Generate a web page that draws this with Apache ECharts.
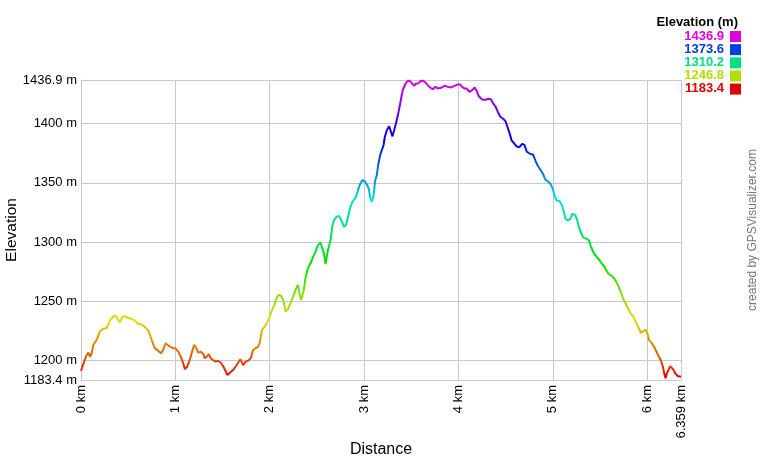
<!DOCTYPE html>
<html>
<head>
<meta charset="utf-8">
<script src="https://cdn.jsdelivr.net/npm/echarts@6/dist/echarts.min.js"></script>
<style>html,body{margin:0;padding:0;background:#fff;}#chart{width:760px;height:460px;}</style>
</head>
<body>
<div id="chart"></div>
<script>
// distance along track (km)
const distKm = [
0, 0.025, 0.060, 0.078, 0.095, 0.113, 0.131, 0.166, 0.201, 0.236, 0.272, 0.307, 0.342, 0.367, 0.388, 0.413, 0.437, 0.466, 0.483, 0.501, 0.536, 0.571, 0.600, 0.642, 0.677, 0.713, 0.730, 0.755, 0.783, 0.818, 0.847, 0.871, 0.896, 0.917, 0.942, 0.977, 1.002, 1.030, 1.058, 1.083, 1.101, 1.125, 1.153, 1.178, 1.199, 1.224, 1.242, 1.270, 1.295, 1.312, 1.340, 1.354, 1.376, 1.400, 1.425, 1.453, 1.481, 1.506, 1.531, 1.552, 1.577, 1.612, 1.637, 1.665, 1.690, 1.718, 1.743, 1.771, 1.799, 1.824, 1.848, 1.877, 1.894,
1.918, 1.954, 1.989, 2.025, 2.050, 2.071, 2.096, 2.121, 2.149, 2.167, 2.191, 2.220, 2.248, 2.273, 2.298, 2.319, 2.333, 2.362, 2.379, 2.404, 2.433, 2.461, 2.486, 2.511, 2.539, 2.557, 2.574, 2.592, 2.617, 2.645, 2.663, 2.681, 2.709, 2.734, 2.759, 2.787, 2.809, 2.830, 2.851, 2.876, 2.911, 2.936, 2.957, 2.982, 3.007, 3.028, 3.050, 3.064, 3.082, 3.099, 3.117, 3.135, 3.149, 3.170, 3.188, 3.206, 3.220, 3.241, 3.266, 3.284, 3.301, 3.319, 3.337,
3.357, 3.375, 3.392, 3.410, 3.435, 3.463, 3.488, 3.509, 3.534, 3.551, 3.576, 3.597, 3.622, 3.650, 3.675, 3.700, 3.728, 3.756, 3.781, 3.816, 3.852, 3.887, 3.922, 3.958, 3.993, 4.018, 4.039, 4.064, 4.088, 4.117, 4.145, 4.173, 4.194, 4.216, 4.251, 4.286, 4.322, 4.346, 4.371, 4.392, 4.417, 4.442, 4.470, 4.498, 4.523, 4.541, 4.565, 4.594, 4.618, 4.647, 4.675, 4.700, 4.724,
4.762, 4.791, 4.816, 4.840, 4.869, 4.897, 4.922, 4.947, 4.975, 5.000, 5.018, 5.039, 5.071, 5.099, 5.117, 5.135, 5.160, 5.188, 5.206, 5.223, 5.241, 5.259, 5.277, 5.301, 5.323, 5.358, 5.383, 5.401, 5.418, 5.443, 5.472, 5.500, 5.525, 5.550, 5.567, 5.592, 5.617, 5.645, 5.674, 5.699, 5.727, 5.748, 5.773, 5.798, 5.826, 5.855, 5.879, 5.904, 5.933, 5.961, 5.986, 6.004, 6.021, 6.046, 6.074, 6.099, 6.124, 6.145, 6.167, 6.181, 6.195, 6.209, 6.227, 6.245, 6.262, 6.280, 6.298, 6.323, 6.359
];
// elevation (m)
const elevM = [
1191.2, 1196.9, 1204.5, 1206.5, 1203.1, 1206.0, 1213.1, 1217.3, 1224.4, 1226.7, 1227.3, 1233.8, 1237.2, 1237.8, 1234.9, 1232.1, 1236.6, 1237.2, 1238.6, 1235.8, 1234.9, 1233.8, 1231.0, 1230.4, 1228.1, 1225.3, 1221.6, 1215.9, 1210.2, 1208.2, 1206.0, 1208.8, 1214.5, 1214.5, 1211.6, 1210.2, 1210.2, 1207.4, 1203.1, 1197.4, 1192.6, 1194.6, 1200.3, 1207.4, 1213.1, 1210.2, 1206.5, 1207.4, 1205.4, 1201.7, 1203.7, 1205.4, 1201.7, 1200.3, 1198.9, 1199.7, 1198.0, 1195.2, 1191.2, 1187.5, 1189.5, 1191.8, 1194.6, 1198.0, 1200.9, 1196.0, 1198.9, 1199.7, 1201.7, 1208.8, 1210.2, 1211.6, 1214.5,
1225.8, 1229.2, 1234.8, 1242.7, 1246.9, 1252.5, 1255.3, 1254.5, 1249.7, 1241.3, 1242.7, 1248.3, 1253.9, 1259.6, 1263.8, 1255.3, 1251.1, 1259.6, 1269.4, 1277.8, 1282.0, 1287.6, 1291.9, 1297.5, 1299.4, 1298.9, 1290.4, 1281.5, 1293.3, 1301.7, 1312.9, 1318.5, 1321.3, 1321.9, 1318.5, 1312.9, 1314.3, 1321.3, 1328.4, 1334.0, 1337.6, 1343.8, 1348.9, 1352.2, 1351.4, 1348.9, 1345.2, 1337.6, 1334.0, 1338.2, 1351.7, 1356.5, 1364.9, 1373.3, 1377.5, 1381.7, 1388.8, 1394.4, 1397.8, 1396.6, 1389.3, 1394.4, 1400.0,
1406.6, 1413.8, 1421.0, 1428.3, 1433.2, 1436.3, 1436.0, 1434.0, 1432.0, 1434.0, 1434.0, 1436.0, 1436.3, 1434.9, 1432.6, 1430.6, 1429.1, 1431.1, 1429.7, 1430.3, 1432.0, 1431.1, 1430.6, 1432.0, 1433.2, 1433.2, 1431.1, 1429.7, 1429.7, 1426.8, 1428.3, 1430.6, 1427.4, 1423.1, 1420.5, 1420.2, 1421.0, 1420.5, 1416.7, 1414.7, 1410.1, 1406.1, 1404.3, 1402.3, 1396.5, 1392.2, 1385.6, 1383.0, 1380.7, 1380.1, 1383.0, 1382.1, 1376.4,
1374.4, 1373.9, 1368.8, 1364.6, 1361.0, 1357.6, 1352.5, 1351.4, 1349.2, 1344.9, 1339.3, 1335.1, 1334.6, 1330.9, 1325.3, 1319.7, 1318.3, 1319.7, 1323.9, 1325.3, 1322.5, 1318.3, 1312.6, 1307.6, 1303.7, 1302.8, 1301.4, 1297.2, 1293.5, 1289.6, 1286.8, 1284.0, 1281.2, 1278.9, 1276.1, 1272.8, 1271.9, 1269.9, 1266.3, 1262.1, 1256.5, 1251.4, 1248.0, 1243.8, 1239.6, 1236.8, 1232.6, 1228.4, 1223.3, 1224.7, 1226.1, 1222.2, 1217.1, 1214.9, 1211.5, 1207.3, 1203.1, 1200.3, 1194.7, 1189.0, 1184.8, 1189.0, 1191.9, 1195.2, 1196.1, 1191.9, 1189.0, 1186.8, 1186.2
];
// axis ticks
const yMin = 1183.4, yMax = 1436.9;
const yTicks = [1183.4, 1200, 1250, 1300, 1350, 1400, 1436.9];
const xMax = 6.359;
const xTicks = [0, 1, 2, 3, 4, 5, 6, 6.359];
// legend
const legendValues = ['1436.9', '1373.6', '1310.2', '1246.8', '1183.4'];
const legendColors = ['#e000e0', '#0040e0', '#00e080', '#b0e000', '#e00000'];
// hue ramp low -> high
const rampColors = ['#e00000', '#e0e000', '#00e000', '#00e0e0', '#0000e0', '#e000e0'];

const FONT = 'Liberation Sans, Arial, sans-serif';
const seriesData = distKm.map((d, i) => [d, elevM[i]]);

const legendGraphics = [{
  type: 'text', x: 738, y: 22,
  style: { text: 'Elevation (m)', fill: '#000', font: 'bold 13px ' + FONT, textAlign: 'right', textVerticalAlign: 'middle' }
}];
legendValues.forEach((v, i) => {
  legendGraphics.push({
    type: 'text', x: 724, y: 36.3 + 13.15 * i,
    style: { text: v, fill: legendColors[i], font: 'bold 13px ' + FONT, textAlign: 'right', textVerticalAlign: 'middle' }
  });
  legendGraphics.push({
    type: 'rect', shape: { x: 730, y: 31 + 13.15 * i, width: 11, height: 11 },
    style: { fill: legendColors[i] }
  });
});
legendGraphics.push({
  type: 'text', x: 753, y: 230, rotation: Math.PI / 2,
  style: { text: 'created by GPSVisualizer.com', fill: '#777', font: '12px ' + FONT, textAlign: 'center', textVerticalAlign: 'middle' }
});

const chart = echarts.init(document.getElementById('chart'), null, { renderer: 'canvas' });
chart.setOption({
  animation: false,
  backgroundColor: '#fff',
  grid: { left: 81, right: 79, top: 80, bottom: 80, containLabel: false, outerBoundsMode: 'none' },
  xAxis: {
    type: 'value', min: 0, max: xMax,
    name: 'Distance', nameLocation: 'middle', nameGap: 62, nameMoveOverlap: false,
    nameTextStyle: { color: '#000', fontSize: 16, fontFamily: FONT },
    axisLine: { show: true, lineStyle: { color: '#c8c8c8', width: 1 } },
    axisTick: { show: false, customValues: xTicks },
    axisLabel: { customValues: xTicks, rotate: 90, margin: 5, color: '#000', fontSize: 13, fontFamily: FONT,
      formatter: v => v + ' km' },
    splitLine: { show: true, lineStyle: { color: '#c8c8c8', width: 1 } }
  },
  yAxis: {
    type: 'value', min: yMin, max: yMax,
    name: 'Elevation', nameLocation: 'middle', nameGap: 61, nameMoveOverlap: false,
    nameTextStyle: { color: '#000', fontSize: 15.5, fontFamily: FONT },
    axisLine: { show: true, lineStyle: { color: '#c8c8c8', width: 1 } },
    axisTick: { show: false, customValues: yTicks },
    axisLabel: { customValues: yTicks, margin: 4, color: '#000', fontSize: 13, fontFamily: FONT,
      formatter: v => v + ' m' },
    splitLine: { show: true, lineStyle: { color: '#c8c8c8', width: 1 } }
  },
  visualMap: {
    show: false, type: 'continuous', dimension: 1, seriesIndex: 0,
    min: yMin, max: yMax, inRange: { color: rampColors }
  },
  series: [{
    type: 'line', data: seriesData, showSymbol: false, smooth: false,
    lineStyle: { width: 2 }, z: 5
  }],
  graphic: legendGraphics
});
</script>
</body>
</html>
